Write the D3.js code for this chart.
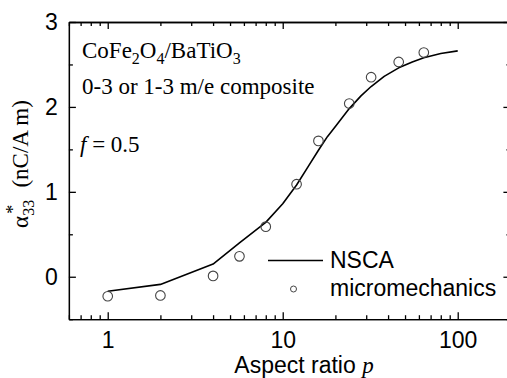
<!DOCTYPE html>
<html>
<head>
<meta charset="utf-8">
<title>alpha33 vs aspect ratio</title>
<script src="https://cdn.jsdelivr.net/npm/d3@7"></script>
<style>
body, html {
  margin: 0;
  padding: 0;
  background: #fff;
}
svg {
  display: block;
}
.sans {
  font-family: "Liberation Sans", Arial, Helvetica, sans-serif;
}
.serif {
  font-family: "Liberation Serif", "Times New Roman", Times, serif;
}
.axis path, .axis line {
  stroke: #000;
  stroke-width: 1.3px;
}
.axis text {
  font-family: "Liberation Sans", Arial, Helvetica, sans-serif;
  font-size: 23px;
  fill: #000;
}
</style>
</head>
<body>
<script>
// micromechanics points (circles)
var pMicro = [1, 2, 4, 5.66, 8, 12, 16, 24, 32, 46, 64];
var alphaMicro = [-0.23, -0.22, 0.01, 0.24, 0.59, 1.09, 1.60, 2.04, 2.35, 2.53, 2.64];

// NSCA curve
var pNsca = [1, 2, 4, 5.66, 8, 10, 12, 14, 16, 18, 20, 24, 28, 32, 38, 46, 55, 64, 80, 100];
var alphaNsca = [-0.17, -0.09, 0.15, 0.40, 0.64, 0.86, 1.08, 1.30, 1.49, 1.65, 1.77, 1.98, 2.13, 2.24, 2.36, 2.46, 2.53, 2.58, 2.63, 2.66];

// ticks
var xMajor = [1, 10, 100];
var xMinor = [0.6, 0.7, 0.8, 0.9, 2, 3, 4, 5, 6, 7, 8, 9, 20, 30, 40, 50, 60, 70, 80, 90, 200];
var yMajor = [0, 1, 2, 3];
var yMinor = [-0.5, 0.5, 1.5, 2.5];

var W = 507, H = 378;

var svg = d3.select("body").append("svg")
  .attr("width", W)
  .attr("height", H);

var x = d3.scaleLog().domain([0.6, 200]).range([68.9, 510.4]);
var y = d3.scaleLinear().domain([-0.5, 3]).range([319.2, 22]);

var x0 = x.range()[0], x1 = x.range()[1];
var y0 = y.range()[0], y1 = y.range()[1];

// A - axes (ticks point inward on all four sides)
svg.append("g").attr("class", "axis")
  .attr("transform", "translate(0," + y0 + ")")
  .call(d3.axisBottom(x).tickValues(xMajor).tickSizeInner(-7).tickSizeOuter(0)
    .tickPadding(12).tickFormat(d3.format("d")));
svg.append("g").attr("class", "axis")
  .attr("transform", "translate(0," + y0 + ")")
  .call(d3.axisBottom(x).tickValues(xMinor).tickSizeInner(-4).tickSizeOuter(0).tickFormat(""));

svg.append("g").attr("class", "axis")
  .attr("transform", "translate(0," + y1 + ")")
  .call(d3.axisTop(x).tickValues(xMajor).tickSizeInner(-7).tickSizeOuter(0).tickFormat(""));
svg.append("g").attr("class", "axis")
  .attr("transform", "translate(0," + y1 + ")")
  .call(d3.axisTop(x).tickValues(xMinor).tickSizeInner(-4).tickSizeOuter(0).tickFormat(""));

svg.append("g").attr("class", "axis")
  .attr("transform", "translate(" + x0 + ",0)")
  .call(d3.axisLeft(y).tickValues(yMajor).tickSizeInner(-7).tickSizeOuter(0)
    .tickPadding(11).tickFormat(d3.format("d")));
svg.append("g").attr("class", "axis")
  .attr("transform", "translate(" + x0 + ",0)")
  .call(d3.axisLeft(y).tickValues(yMinor).tickSizeInner(-4).tickSizeOuter(0).tickFormat(""));

svg.append("g").attr("class", "axis")
  .attr("transform", "translate(" + x1 + ",0)")
  .call(d3.axisRight(y).tickValues(yMajor).tickSizeInner(-7).tickSizeOuter(0).tickFormat(""));
svg.append("g").attr("class", "axis")
  .attr("transform", "translate(" + x1 + ",0)")
  .call(d3.axisRight(y).tickValues(yMinor).tickSizeInner(-4).tickSizeOuter(0).tickFormat(""));

// B - NSCA line
var line = d3.line()
  .x(function(d) { return x(d[0]); })
  .y(function(d) { return y(d[1]); });

svg.append("path")
  .datum(d3.zip(pNsca, alphaNsca))
  .attr("d", line)
  .attr("fill", "none")
  .attr("stroke", "#000")
  .attr("stroke-width", 1.6)
  .attr("stroke-linejoin", "round");

// C - micromechanics circles
svg.append("g").selectAll("circle")
  .data(d3.zip(pMicro, alphaMicro))
  .enter().append("circle")
  .attr("cx", function(d) { return x(d[0]); })
  .attr("cy", function(d) { return y(d[1]); })
  .attr("r", 4.8)
  .attr("fill", "none")
  .attr("stroke", "#444")
  .attr("stroke-width", 1.1);

// D - legend
svg.append("line")
  .attr("x1", 268).attr("x2", 323)
  .attr("y1", 260.5).attr("y2", 260.5)
  .attr("stroke", "#000").attr("stroke-width", 1.6);
svg.append("circle")
  .attr("cx", 293.5).attr("cy", 289).attr("r", 3)
  .attr("fill", "none").attr("stroke", "#444").attr("stroke-width", 1);
svg.append("text").attr("class", "sans")
  .attr("x", 330).attr("y", 267.5).attr("font-size", 23).text("NSCA");
svg.append("text").attr("class", "sans")
  .attr("x", 330).attr("y", 295.5).attr("font-size", 23).text("micromechanics");

// E - annotations
var t1 = svg.append("text").attr("class", "serif")
  .attr("x", 82).attr("y", 57.5).attr("font-size", 23);
t1.append("tspan").text("CoFe");
t1.append("tspan").attr("dy", 6).attr("font-size", 16).text("2");
t1.append("tspan").attr("dy", -6).text("O");
t1.append("tspan").attr("dy", 6).attr("font-size", 16).text("4");
t1.append("tspan").attr("dy", -6).text("/BaTiO");
t1.append("tspan").attr("dy", 6).attr("font-size", 16).text("3");

svg.append("text").attr("class", "serif")
  .attr("x", 82).attr("y", 93.5).attr("font-size", 23)
  .text("0-3 or 1-3 m/e composite");

var t3 = svg.append("text").attr("class", "serif")
  .attr("x", 80).attr("y", 152).attr("font-size", 23);
t3.append("tspan").attr("font-style", "italic").text("f");
t3.append("tspan").text(" = 0.5");

// F - axis titles
var xt = svg.append("text").attr("class", "sans")
  .attr("x", 304).attr("y", 373).attr("font-size", 23)
  .attr("text-anchor", "middle");
xt.append("tspan").text("Aspect ratio ");
xt.append("tspan").attr("class", "serif").attr("font-style", "italic").text("p");

var yt = svg.append("text").attr("class", "serif")
  .attr("transform", "translate(28,164) rotate(-90)")
  .attr("font-size", 23)
  .attr("text-anchor", "middle");
yt.append("tspan").text("\u03b1");
yt.append("tspan").attr("dy", 6).attr("font-size", 16).text("33");
yt.append("tspan").attr("dy", -15).attr("dx", -14).attr("font-size", 18).text("*");
yt.append("tspan").attr("dy", 9).text("\u2002 (nC/A m)");
</script>
</body>
</html>
